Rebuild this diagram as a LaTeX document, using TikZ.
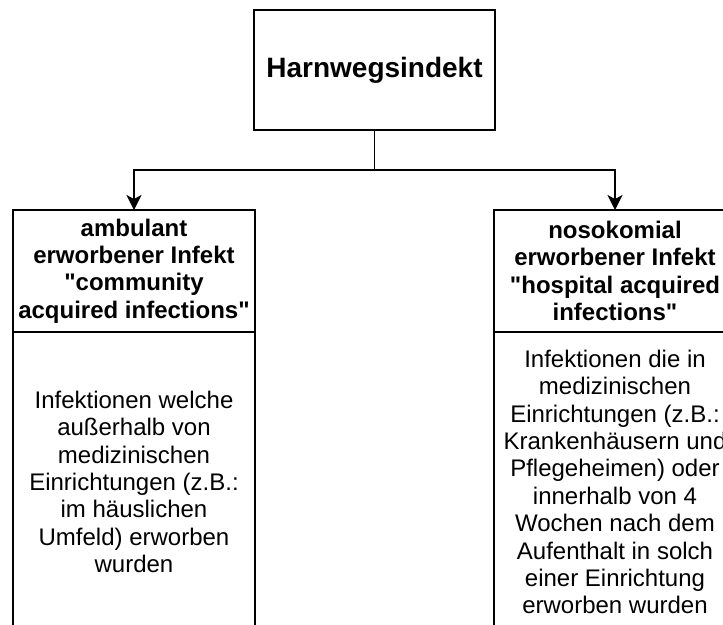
\documentclass[tikz,border=0pt]{standalone}
\usepackage{fontspec}
\setmainfont{Liberation Sans}
\usetikzlibrary{arrows.meta, positioning}

\begin{document}
\begin{tikzpicture}[
    x=1pt, y=1pt,
    box/.style={rectangle, draw, line width=1.5pt, outer sep=0pt, inner sep=2pt,
                minimum width=242pt, align=center,
                font=\fontsize{24}{27.4}\selectfont},
    head/.style={box, minimum height=122pt,
                 font=\fontsize{24}{27.4}\selectfont\bfseries},
    body/.style={box, minimum height=300pt},
    arr/.style={-{Stealth[length=15pt, width=15pt, inset=4pt]}, line width=1.5pt}
  ]
  \clip (0,0) rectangle (723,-624);
  \fill[white] (0,0) rectangle (723,-624);

  \node[box, minimum width=241pt, minimum height=120pt,
        font=\fontsize{28}{33}\selectfont\bfseries] (hwi) at (374.5,-70) {Harnwegsindekt};

  % ambulant
  \node[head] (amb) at (134,-271) {ambulant\\ erworbener Infekt\\
    \textquotedbl community\\ acquired infections\textquotedbl};
  \node[body, below=0pt of amb] (ambtext) {Infektionen welche\\ außerhalb von\\ medizinischen\\
    Einrichtungen (z.B.:\\ im häuslichen\\ Umfeld) erworben\\ wurden};

  % nosokomial
  \node[head] (noso) at (615,-271) {nosokomial\\ erworbener Infekt\\
    \textquotedbl hospital acquired\\ infections\textquotedbl};
  \node[body, below=0pt of noso] (nosotext) {Infektionen die in\\ medizinischen\\ Einrichtungen (z.B.:\\
    Krankenhäusern und\\ Pflegeheimen) oder\\ innerhalb von 4\\ Wochen nach dem\\
    Aufenthalt in solch\\ einer Einrichtung\\ erworben wurden};

  \coordinate (split) at (374.5,-170);
  \draw[arr] (hwi.south) -- (split) -| (amb.north);
  \draw[arr] (hwi.south) -- (split) -| (noso.north);
\end{tikzpicture}
\end{document}
